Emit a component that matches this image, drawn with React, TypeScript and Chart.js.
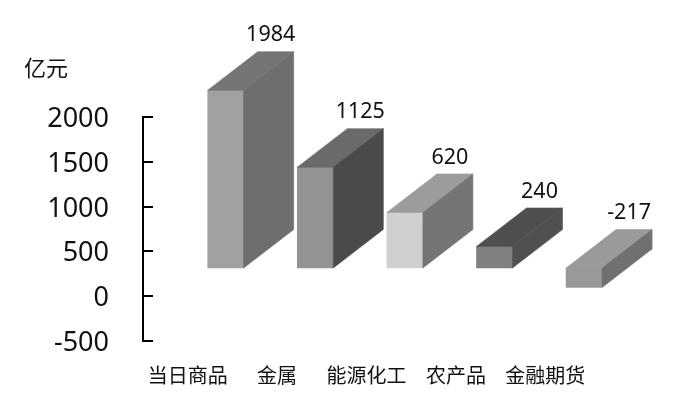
import React, { useEffect, useRef } from 'react';
import { Chart, registerables } from 'chart.js';

Chart.register(...registerables);

const categories = ['当日商品', '金属', '能源化工', '农产品', '金融期货'];
const values = [1984, 1125, 620, 240, -217];
const yTickValues = [-500, 0, 500, 1000, 1500, 2000];

const frontColors = ['#a1a1a1', '#939393', '#cfcfcf', '#808080', '#999999'];
const topColors = ['#757575', '#6a6a6a', '#9c9c9c', '#4f4f4f', '#9a9a9a'];
const sideColors = ['#6e6e6e', '#4a4a4a', '#757575', '#505050', '#707070'];

const UNIT_LABEL = '亿元';
const CJK_FONT = '"Noto Sans CJK SC", sans-serif';
const NUM_FONT = '"Noto Sans", sans-serif';

// the bars sit up and to the right of the axis, like the old 3D office charts
const DEPTH_X = 50;
const DEPTH_Y = 38.5;
const BASE_SHIFT = 315;

function fillFace(ctx: CanvasRenderingContext2D, color: string, pts: number[][]) {
  ctx.fillStyle = color;
  ctx.strokeStyle = color;
  ctx.lineWidth = 0.6;
  ctx.beginPath();
  pts.forEach(([px, py], n) => (n === 0 ? ctx.moveTo(px, py) : ctx.lineTo(px, py)));
  ctx.closePath();
  ctx.fill();
  ctx.stroke();
}

const box3d = {
  id: 'box3d',
  afterDatasetsDraw(chart: any) {
    const { ctx } = chart;
    const bars = chart.getDatasetMeta(0).data;
    bars.forEach((bar: any, i: number) => {
      const left = bar.x - bar.width / 2;
      const right = bar.x + bar.width / 2;
      const top = Math.min(bar.y, bar.base);
      const bottom = Math.max(bar.y, bar.base);

      fillFace(ctx, topColors[i], [
        [left, top],
        [left + DEPTH_X, top - DEPTH_Y],
        [right + DEPTH_X, top - DEPTH_Y],
        [right, top],
      ]);
      fillFace(ctx, sideColors[i], [
        [right, top],
        [right + DEPTH_X, top - DEPTH_Y],
        [right + DEPTH_X, bottom - DEPTH_Y],
        [right, bottom],
      ]);

      ctx.fillStyle = '#111111';
      ctx.font = `21.5px ${NUM_FONT}`;
      ctx.textAlign = 'center';
      ctx.textBaseline = 'middle';
      ctx.fillText(String(values[i]), bar.x + 45, top - 55);
    });

    // tick marks point inwards, chart.js only draws them outwards.
    // labels sit a little under their tick, so they are drawn here too
    const yScale = chart.scales.y;
    yScale.ticks.forEach((tick: any) => {
      const py = Math.round(yScale.getPixelForValue(tick.value));
      ctx.strokeStyle = '#000000';
      ctx.lineWidth = 2;
      ctx.beginPath();
      ctx.moveTo(yScale.right, py);
      ctx.lineTo(yScale.right + 10, py);
      ctx.stroke();

      ctx.fillStyle = '#111111';
      ctx.font = `27px ${NUM_FONT}`;
      ctx.textAlign = 'right';
      ctx.textBaseline = 'middle';
      ctx.fillText(String(tick.value), yScale.right - 34, py + 2);
    });

    ctx.fillStyle = '#111111';
    ctx.font = `22px ${CJK_FONT}`;
    ctx.textAlign = 'center';
    ctx.textBaseline = 'middle';
    ctx.fillText(UNIT_LABEL, 46, 68);
  },
};

export default function App() {
  const chartRef = useRef<HTMLCanvasElement>(null);

  useEffect(() => {
    if (!chartRef.current) return;

    const chart = new Chart(chartRef.current, {
      type: 'bar',
      data: {
        labels: categories,
        datasets: [
          {
            data: values.map((v, i) => ({ x: i, y: v })),
            xAxisID: 'x2',
            yAxisID: 'y2',
            backgroundColor: frontColors,
            borderWidth: 0,
            barThickness: 36,
            clip: false,
          } as any,
        ],
      },
      options: {
        responsive: false,
        animation: false,
        devicePixelRatio: 1,
        layout: { padding: { top: 117, right: 89, left: 0, bottom: 0 } },
        plugins: { legend: { display: false }, tooltip: { enabled: false }, title: { display: false } },
        scales: {
          x: {
            type: 'category',
            offset: true,
            grid: { display: false },
            border: { display: false },
            ticks: {
              autoSkip: false,
              maxRotation: 0,
              padding: 14,
              color: '#111111',
              font: { family: CJK_FONT, size: 20 },
            },
            afterFit: (scale: any) => {
              scale.height = 69;
            },
          },
          y: {
            type: 'linear',
            min: -500,
            max: 2000,
            grid: { display: false, drawTicks: false },
            border: { display: true, color: '#000000', width: 2 },
            afterBuildTicks: (scale: any) => {
              scale.ticks = yTickValues.map((value) => ({ value }));
            },
            ticks: { display: false },
            afterFit: (scale: any) => {
              scale.width = 143;
            },
          },
          x2: {
            type: 'linear',
            display: false,
            offset: false,
            min: -0.923,
            max: 4.066,
            grid: { display: false },
          },
          y2: {
            type: 'linear',
            display: false,
            min: -500 - BASE_SHIFT,
            max: 2000 - BASE_SHIFT,
            grid: { display: false },
          },
        },
      },
      plugins: [box3d],
    } as any);

    return () => {
      chart.destroy();
    };
  }, []);

  return (
    <div style={{ position: 'absolute', left: 0, top: 0, width: 679, height: 410, background: '#ffffff' }}>
      <canvas ref={chartRef} width={679} height={410} style={{ display: 'block' }}></canvas>
    </div>
  );
}
